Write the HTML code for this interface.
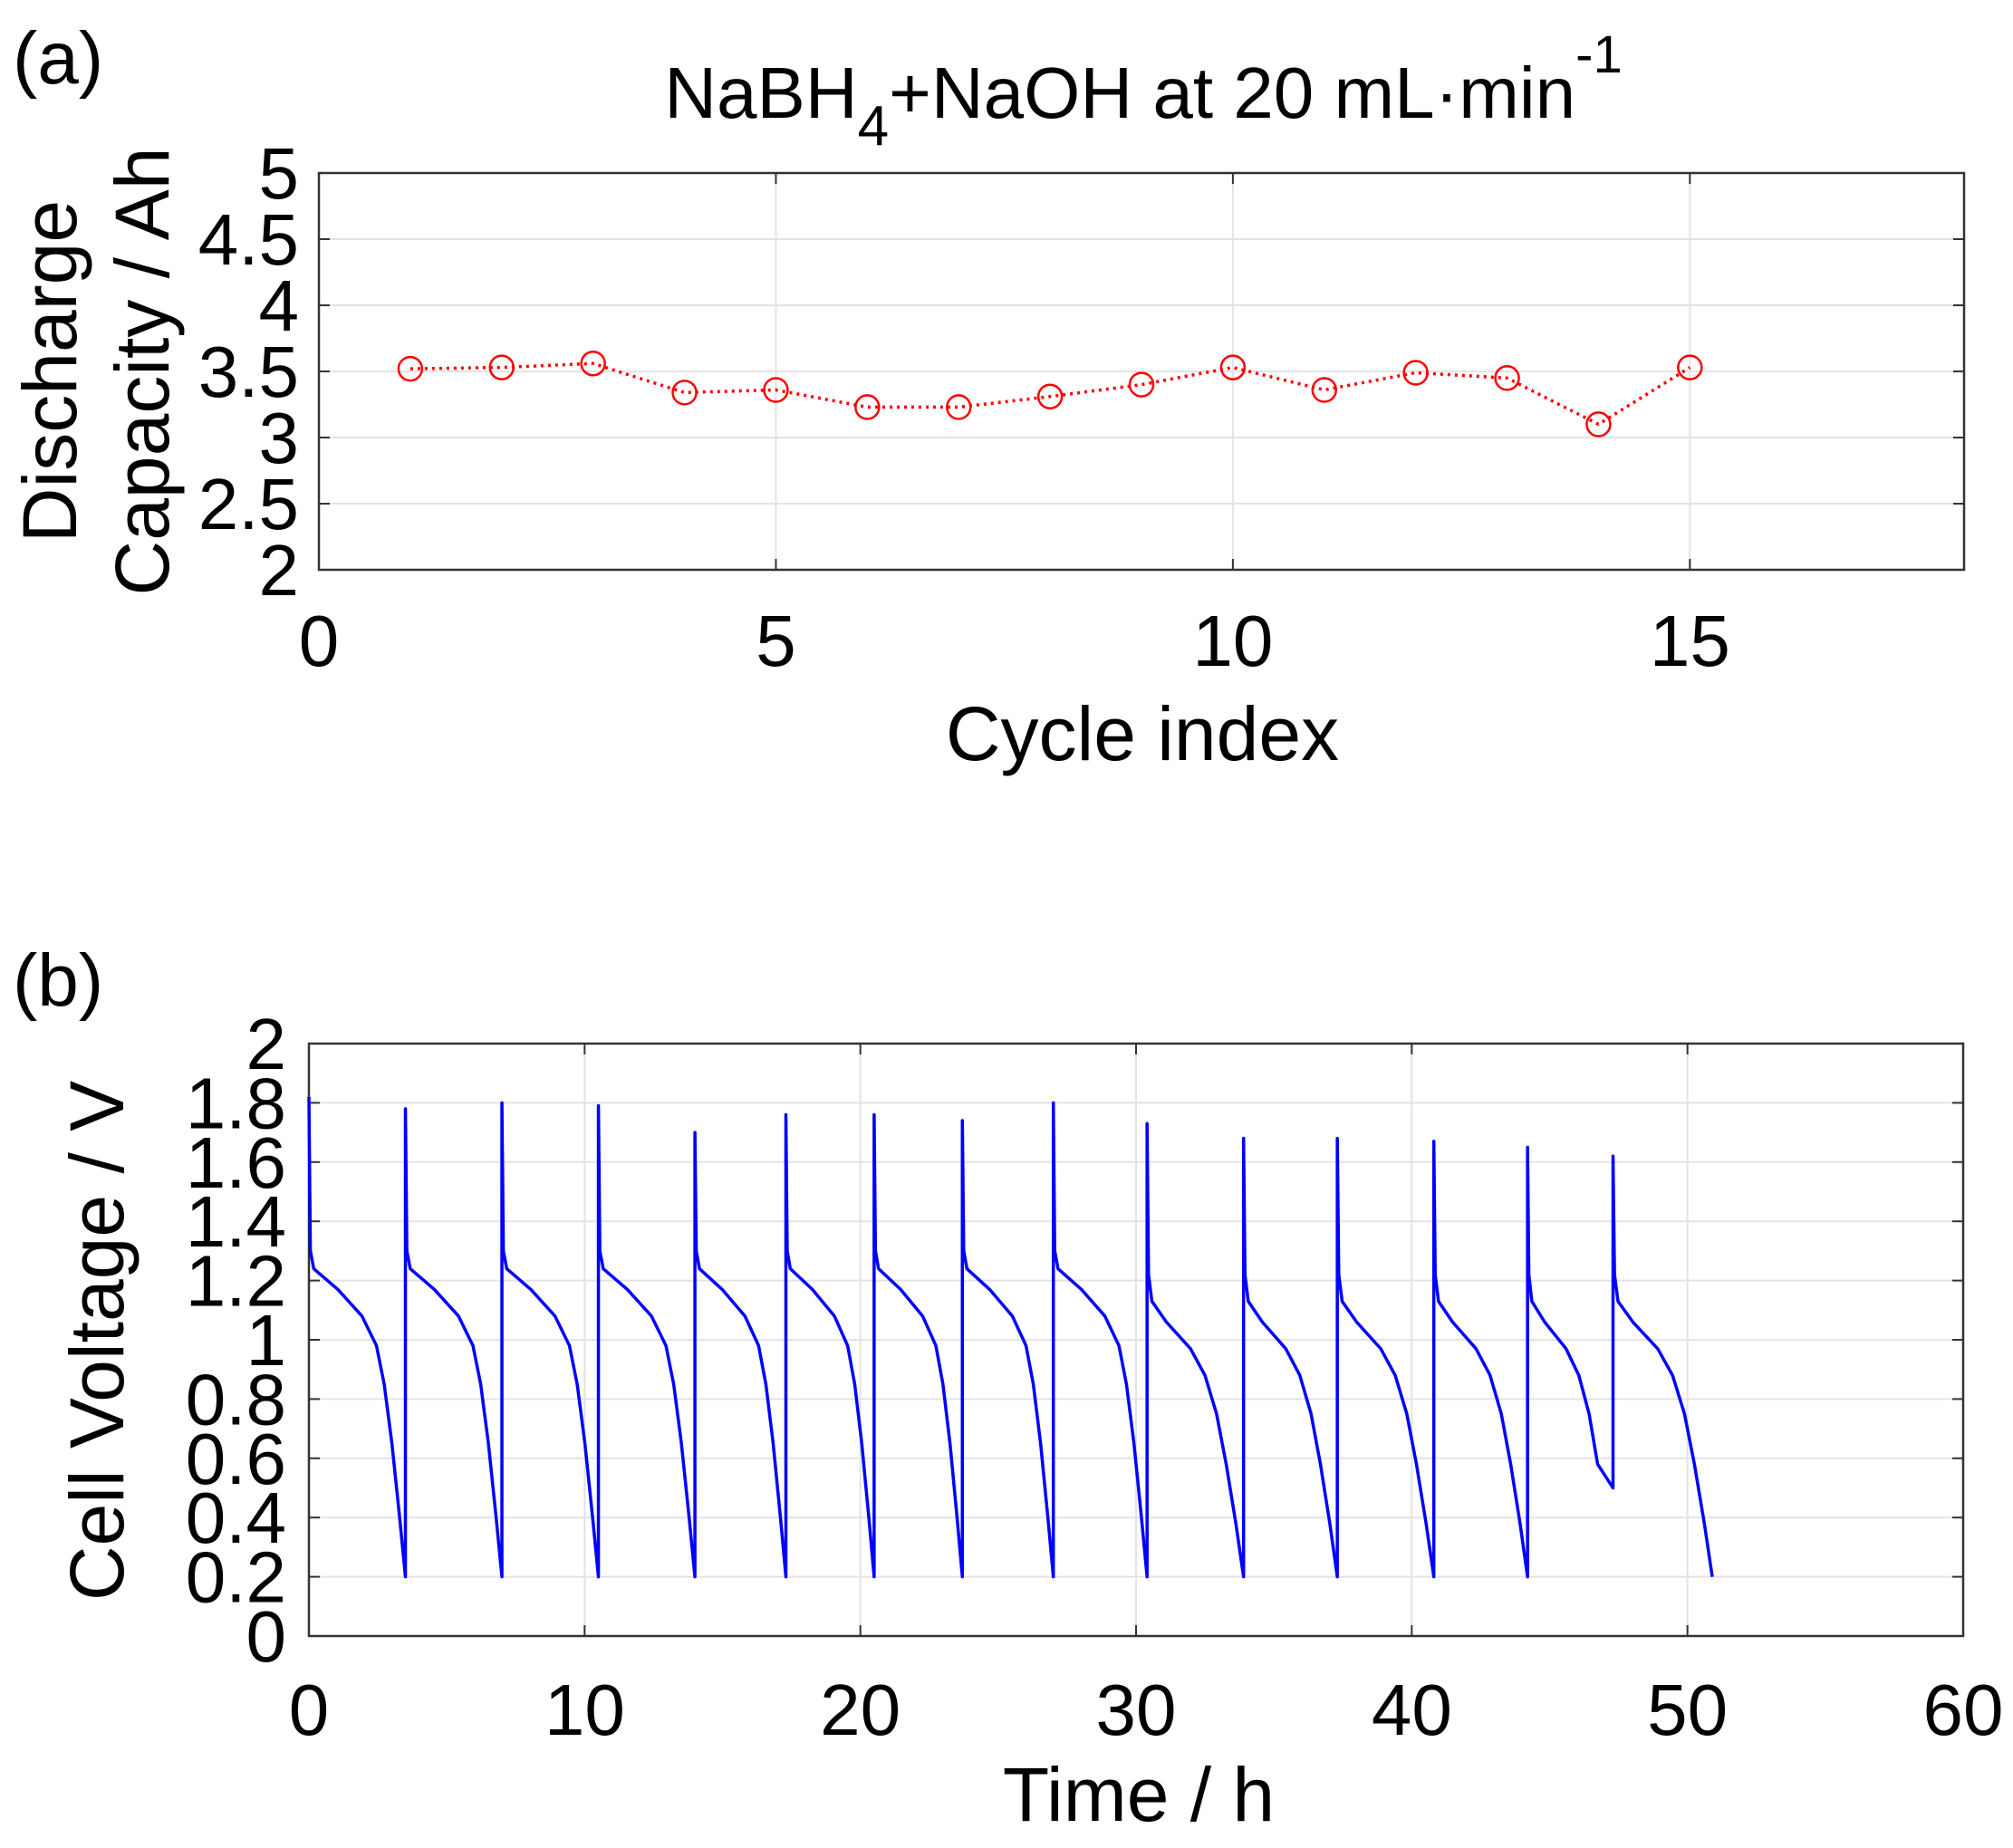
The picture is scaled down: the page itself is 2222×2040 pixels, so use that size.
<!DOCTYPE html>
<html><head><meta charset="utf-8"><style>
html,body{margin:0;padding:0;background:#fff;}
svg{display:block;font-family:"Liberation Sans",Arial,sans-serif;}
</style></head><body>
<svg id="fig" width="2222" height="2040" viewBox="0 0 2222 2040" xmlns="http://www.w3.org/2000/svg">
<rect width="2222" height="2040" fill="#fff"/>
<g id="pa"></g>
<g id="pb"></g>
<text x="14" y="92" font-size="82">(a)</text>
<text x="1262" y="130" font-size="80" text-anchor="middle">NaBH<tspan font-size="62" dy="30">4</tspan><tspan dy="-30">+NaOH at 20 mL·min</tspan><tspan font-size="58" dy="-50">-1</tspan></text>
<text transform="translate(84,410) rotate(-90)" font-size="84" text-anchor="middle">Discharge</text>
<text transform="translate(186,410) rotate(-90)" font-size="84" text-anchor="middle">Capacity / Ah</text>
<text x="1261" y="839" font-size="84" text-anchor="middle">Cycle index</text>
<text x="14" y="1110" font-size="82">(b)</text>
<text transform="translate(136,1480) rotate(-90)" font-size="84" text-anchor="middle">Cell Voltage / V</text>
<text x="1257" y="2010" font-size="84" text-anchor="middle">Time / h</text>
</svg>
<script>
// Panel (a) data
const cycleIndex = [1,2,3,4,5,6,7,8,9,10,11,12,13,14,15];
const capacity = [3.52,3.53,3.56,3.34,3.36,3.23,3.23,3.31,3.40,3.53,3.36,3.49,3.45,3.10,3.53];
const aXTicks = [0,5,10,15];
const aYTicks = [2,2.5,3,3.5,4,4.5,5];
const aYTickLabels = ["2","2.5","3","3.5","4","4.5","5"];
// Panel (b) data: one entry per charge/discharge cycle
const cycStart = [0,3.5,7.0,10.5,14.0,17.3,20.5,23.7,27.0,30.4,33.9,37.3,40.8,44.2,47.3];
const cycEnd   = [3.5,7.0,10.5,14.0,17.3,20.5,23.7,27.0,30.4,33.9,37.3,40.8,44.2,47.3,50.9];
const cycPeak  = [1.82,1.78,1.80,1.79,1.70,1.76,1.76,1.74,1.80,1.73,1.68,1.68,1.67,1.65,1.62];
const cycEndV  = [0.2,0.2,0.2,0.2,0.2,0.2,0.2,0.2,0.2,0.2,0.2,0.2,0.2,0.5,0.2];
const cycLate  = [0,0,0,0,0,0,0,0,0,1,1,1,1,1,1];
// discharge shape templates: [fraction of cycle, voltage]
const shapeEarlyPhase = [0.015,0.05,0.3,0.55,0.7,0.78,0.86,0.94,1];
const shapeEarlyV     = [1.30,1.24,1.17,1.08,0.98,0.85,0.65,0.40,0.2];
const shapeLatePhase  = [0.015,0.05,0.2,0.45,0.6,0.72,0.82,0.92,1];
const shapeLateV      = [1.22,1.13,1.06,0.97,0.88,0.75,0.58,0.38,0.2];
const bXTicks = [0,10,20,30,40,50,60];
const bYTicks = [0,0.2,0.4,0.6,0.8,1,1.2,1.4,1.6,1.8,2];
const bYTickLabels = ["0","0.2","0.4","0.6","0.8","1","1.2","1.4","1.6","1.8","2"];

const NS="http://www.w3.org/2000/svg";
function mk(tag,parent,attrs){const e=document.createElementNS(NS,tag);for(const k in attrs)e.setAttribute(k,attrs[k]);parent.appendChild(e);return e;}

function axes(g,L,R,T,B,xmin,xmax,ymin,ymax,xt,yt,ytl,yLabX,xLabY,prefix){
  const sx=v=>L+(v-xmin)/(xmax-xmin)*(R-L);
  const sy=v=>B-(v-ymin)/(ymax-ymin)*(B-T);
  xt.forEach(v=>{
    const gl=mk('line',g,{x1:sx(v),x2:sx(v),y1:T,y2:B,stroke:'#e3e3e3','stroke-width':2});
    
    
    [[B,B-12],[T,T+12]].forEach(p=>{mk('line',g,{x1:sx(v),x2:sx(v),y1:p[0],y2:p[1],stroke:'#333','stroke-width':2});});
    const t=mk('text',g,{x:sx(v),y:xLabY,'font-size':80,'text-anchor':'middle'});
    t.textContent=String(v);
    
    
  });
  yt.forEach((v,i)=>{
    const gl=mk('line',g,{x1:L,x2:R,y1:sy(v),y2:sy(v),stroke:'#e3e3e3','stroke-width':2});
    
    
    [[L,L+12],[R,R-12]].forEach(p=>{mk('line',g,{x1:p[0],x2:p[1],y1:sy(v),y2:sy(v),stroke:'#333','stroke-width':2});});
    const t=mk('text',g,{x:yLabX,y:sy(v)+28,'font-size':80,'text-anchor':'end'});
    t.textContent=ytl[i];
    
    
  });
  const box=mk('rect',g,{x:L,y:T,width:R-L,height:B-T,fill:'none',stroke:'#333','stroke-width':2.5});
  
  
  return {sx,sy};
}

// Panel a
const ga=document.getElementById('pa');
const A=axes(ga,352,2168,191,629,0,18,2,5,aXTicks,aYTicks,aYTickLabels,330,735,'panel-a-');
let d='';
cycleIndex.forEach((c,i)=>{d+=(i?'L':'M')+A.sx(c)+' '+A.sy(capacity[i]);});
const la=mk('path',ga,{d:d,fill:'none',stroke:'#ff0000','stroke-width':3.5,'stroke-dasharray':'3 5'});


cycleIndex.forEach((c,i)=>{
  const m=mk('circle',ga,{cx:A.sx(c),cy:A.sy(capacity[i]),r:13,fill:'none',stroke:'#ff0000','stroke-width':2.5});
  
  
});

// Panel b
const gb=document.getElementById('pb');
const Bx=axes(gb,341,2167,1152,1806,0,60,0,2,bXTicks,bYTicks,bYTickLabels,316,1915,'panel-b-');
let pd='';
cycStart.forEach((t0,i)=>{
  const t1=cycEnd[i];
  const ph=cycLate[i]?shapeLatePhase:shapeEarlyPhase;
  const vv=cycLate[i]?shapeLateV:shapeEarlyV;
  pd+=(i?'L':'M')+Bx.sx(t0)+' '+Bx.sy(cycPeak[i]);
  ph.forEach((p,j)=>{
    let v=vv[j];
    if(j===ph.length-1) v=cycEndV[i];
    else if(v<=cycEndV[i]) return;
    pd+='L'+Bx.sx(t0+p*(t1-t0))+' '+Bx.sy(v);
  });
});
const lb=mk('path',gb,{d:pd,fill:'none',stroke:'#0000ff','stroke-width':3.5,'stroke-linejoin':'round'});


</script>
</body></html>
